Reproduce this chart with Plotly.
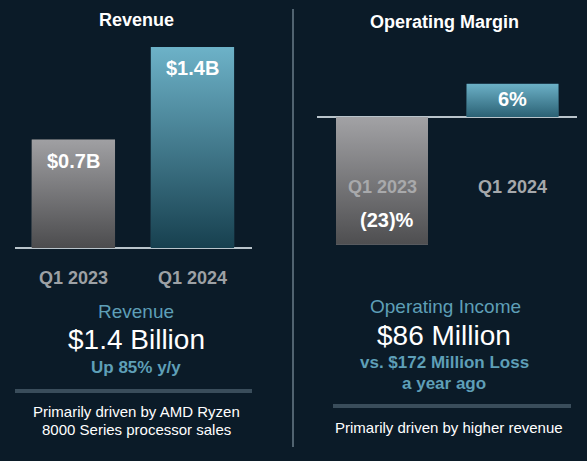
import base64
import plotly.graph_objects as go

# Revenue (billions of $)
quarters = ["Q1 2023", "Q1 2024"]
revenue = [0.74, 1.37]
revenue_labels = ["$0.7B", "$1.4B"]

# Operating margin (%)
op_margin = [-23, 6]
op_margin_labels = ["(23)%", "6%"]

W, H = 587, 461
BG = "#0b1b28"
FONT = "Arial, Liberation Sans, sans-serif"
TEAL = "#417d92"
GREY = "#78787b"
BLUE_TXT = "#5e9fb7"


def px(y):
    # pixel row (from top) -> paper y
    return 1 - y / H


def grad(top, bottom):
    svg = ('<svg xmlns="http://www.w3.org/2000/svg" width="10" height="100" '
           'viewBox="0 0 10 100" preserveAspectRatio="none">'
           '<defs><linearGradient id="g" x1="0" y1="0" x2="0" y2="1">'
           f'<stop offset="0" stop-color="{top}"/><stop offset="1" stop-color="{bottom}"/>'
           '</linearGradient></defs><rect width="10" height="100" fill="url(#g)"/></svg>')
    return "data:image/svg+xml;base64," + base64.b64encode(svg.encode()).decode()


fig = go.Figure()

fig.add_trace(go.Bar(
    x=[0, 1], y=revenue, width=0.7,
    marker=dict(color=[GREY, TEAL], line_width=0),
    xaxis="x", yaxis="y", hoverinfo="skip"))

fig.add_trace(go.Bar(
    x=[0, 1], y=op_margin, width=0.705,
    marker=dict(color=[GREY, TEAL], line_width=0),
    xaxis="x2", yaxis="y2", hoverinfo="skip"))

axis_common = dict(showgrid=False, showticklabels=False, ticks="",
                   showline=False, fixedrange=True)

fig.update_layout(
    width=W, height=H,
    margin=dict(l=0, r=0, t=0, b=0),
    paper_bgcolor=BG, plot_bgcolor=BG,
    showlegend=False,
    font=dict(family=FONT),
    xaxis=dict(domain=[15 / W, 252 / W], range=[-0.49, 1.5], zeroline=False, **axis_common),
    yaxis=dict(domain=[px(248), px(30)], range=[0, 1.486], zeroline=True,
               zerolinecolor="#b9c4cb", zerolinewidth=1.5, **axis_common),
    xaxis2=dict(domain=[317 / W, 577 / W], range=[-0.498, 1.494], zeroline=False,
                anchor="y2", **axis_common),
    yaxis2=dict(domain=[px(260), px(60)], range=[-25.77, 10.27], zeroline=True,
                zerolinecolor="#b9c4cb", zerolinewidth=1.5, anchor="x2", **axis_common),
)

# gradient fill laid over each bar, sized from the bar values
rev_grads = [grad("#a0a0a3", "#4c4c4e"), grad("#6db2c8", "#17404f")]
for i, v in enumerate(revenue):
    fig.add_layout_image(source=rev_grads[i], xref="x", yref="y", x=i - 0.35, y=v,
                         sizex=0.7, sizey=v, sizing="stretch", xanchor="left",
                         yanchor="top", layer="above")
om_grads = [grad("#a2a2a5", "#4e4e50"), grad("#6cb1c7", "#2b6174")]
for i, v in enumerate(op_margin):
    fig.add_layout_image(source=om_grads[i], xref="x2", yref="y2", x=i - 0.3525,
                         y=max(v, 0), sizex=0.705, sizey=abs(v), sizing="stretch",
                         xanchor="left", yanchor="top", layer="above")

ann = []


def text(x, y, s, size, color="white", bold=False, xref="paper"):
    if bold:
        s = "<b>" + s + "</b>"
    ann.append(dict(x=x, y=px(y), xref=xref, yref="paper", text=s, showarrow=False,
                    font=dict(size=size, color=color, family=FONT),
                    xanchor="center", yanchor="middle"))


# titles
text(136 / W, 20, "Revenue", 18, bold=True)
text(444 / W, 22, "Operating Margin", 18, bold=True)

# bar value labels
for i, lab in enumerate(revenue_labels):
    text(i, [161, 68][i], lab, 20, bold=True, xref="x")
text(0.04, 220, op_margin_labels[0], 20, bold=True, xref="x2")
text(1, 99, op_margin_labels[1], 20, bold=True, xref="x2")

# category labels
for i, q in enumerate(quarters):
    text(i, 278, q, 18, color="#9da1a5", bold=True, xref="x")
text(0, 187, quarters[0], 18, color="#a8a9ab", bold=True, xref="x2")
text(1, 187, quarters[1], 18, color="#a5a8ab", bold=True, xref="x2")

# summary blocks
text(136 / W, 311, "Revenue", 19, color=BLUE_TXT)
text(136 / W, 339, "$1.4 Billion", 28)
text(136 / W, 367, "Up 85% y/y", 17, color=BLUE_TXT, bold=True)
text(136 / W, 411, "Primarily driven by AMD Ryzen", 15)
text(136 / W, 429, "8000 Series processor sales", 15)

text(445 / W, 306, "Operating Income", 19, color=BLUE_TXT)
text(444 / W, 335, "$86 Million", 28)
text(444 / W, 362, "vs. $172 Million Loss", 17, color=BLUE_TXT, bold=True)
text(444 / W, 383, "a year ago", 17, color=BLUE_TXT, bold=True)
text(449 / W, 427, "Primarily driven by higher revenue", 15)

fig.update_layout(annotations=ann)

# separators and divider
fig.add_shape(type="line", xref="paper", yref="paper", x0=15 / W, x1=252 / W,
              y0=px(391), y1=px(391), line=dict(color="#3a4d5b", width=4))
fig.add_shape(type="line", xref="paper", yref="paper", x0=333 / W, x1=571 / W,
              y0=px(406), y1=px(406), line=dict(color="#3a4d5b", width=4))
fig.add_shape(type="line", xref="paper", yref="paper", x0=293 / W, x1=293 / W,
              y0=px(9), y1=px(447), line=dict(color="#6a7c88", width=1.5))

fig.write_html("out.html", config={"displayModeBar": False},
               post_script="document.body.style.margin='0';")
